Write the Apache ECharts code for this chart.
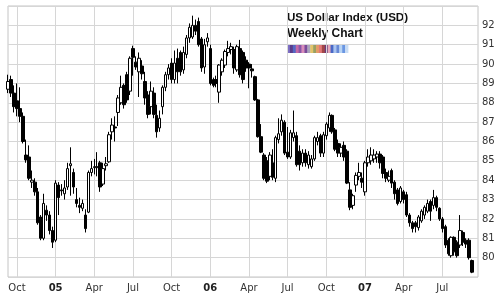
<!DOCTYPE html>
<html><head><meta charset="utf-8">
<script src="https://cdn.jsdelivr.net/npm/echarts@6/dist/echarts.min.js"></script>
<style>html,body{margin:0;padding:0;background:#fff}#c{width:499px;height:297px}</style>
</head><body><div id="c"></div>
<script>
// Weekly categories (Mondays)
const weeks = [
'2004-09-13','2004-09-20','2004-09-27','2004-10-04','2004-10-11','2004-10-18','2004-10-25','2004-11-01','2004-11-08','2004-11-15','2004-11-22','2004-11-29','2004-12-06','2004-12-13','2004-12-20','2004-12-27',
'2005-01-03','2005-01-10','2005-01-17','2005-01-24','2005-01-31','2005-02-07','2005-02-14','2005-02-21','2005-02-28','2005-03-07','2005-03-14','2005-03-21','2005-03-28','2005-04-04','2005-04-11','2005-04-18','2005-04-25','2005-05-02','2005-05-09','2005-05-16','2005-05-23','2005-05-30','2005-06-06','2005-06-13','2005-06-20','2005-06-27','2005-07-04','2005-07-11','2005-07-18','2005-07-25','2005-08-01','2005-08-08','2005-08-15','2005-08-22','2005-08-29','2005-09-05','2005-09-12','2005-09-19','2005-09-26','2005-10-03','2005-10-10','2005-10-17','2005-10-24','2005-10-31','2005-11-07','2005-11-14','2005-11-21','2005-11-28','2005-12-05','2005-12-12','2005-12-19','2005-12-26',
'2006-01-02','2006-01-09','2006-01-16','2006-01-23','2006-01-30','2006-02-06','2006-02-13','2006-02-20','2006-02-27','2006-03-06','2006-03-13','2006-03-20','2006-03-27','2006-04-03','2006-04-10','2006-04-17','2006-04-24','2006-05-01','2006-05-08','2006-05-15','2006-05-22','2006-05-29','2006-06-05','2006-06-12','2006-06-19','2006-06-26','2006-07-03','2006-07-10','2006-07-17','2006-07-24','2006-07-31','2006-08-07','2006-08-14','2006-08-21','2006-08-28','2006-09-04','2006-09-11','2006-09-18','2006-09-25','2006-10-02','2006-10-09','2006-10-16','2006-10-23','2006-10-30','2006-11-06','2006-11-13','2006-11-20','2006-11-27','2006-12-04','2006-12-11','2006-12-18','2006-12-25',
'2007-01-01','2007-01-08','2007-01-15','2007-01-22','2007-01-29','2007-02-05','2007-02-12','2007-02-19','2007-02-26','2007-03-05','2007-03-12','2007-03-19','2007-03-26','2007-04-02','2007-04-09','2007-04-16','2007-04-23','2007-04-30','2007-05-07','2007-05-14','2007-05-21','2007-05-28','2007-06-04','2007-06-11','2007-06-18','2007-06-25','2007-07-02','2007-07-09','2007-07-16','2007-07-23','2007-07-30','2007-08-06','2007-08-13','2007-08-20','2007-08-27','2007-09-03','2007-09-10','2007-09-17','2007-09-24'
];
const openV = [88.7,89.2,88.5,88.1,87.7,87.3,85.3,85.2,83.9,83.9,83.4,82.1,81.0,82.45,82.2,81.4,80.9,83.75,83.5,83.3,83.65,84.75,84.4,83.0,82.7,82.55,82.2,82.35,84.4,84.65,84.65,84.9,83.8,84.75,84.95,86.5,86.75,87.5,88.0,88.9,89.45,88.6,90.8,90.1,89.6,89.9,89.1,88.4,87.8,88.5,87.35,86.7,87.8,88.8,89.45,90.05,89.2,90.3,90.6,89.7,90.5,91.35,91.4,92.0,92.2,91.3,89.85,91.15,90.8,89.2,89.2,88.55,89.6,89.95,90.6,90.75,90.75,89.7,90.8,90.6,90.2,90.0,89.75,89.35,88.15,86.25,85.3,85.0,84.2,84.9,84.1,86.1,86.5,87.0,85.45,85.2,86.2,86.3,85.5,84.9,85.4,84.8,84.7,85.1,86.0,86.3,85.4,86.3,86.7,87.35,86.6,85.9,85.4,85.8,85.5,83.5,82.7,83.75,84.2,84.1,83.4,84.9,85.0,85.1,85.2,85.35,85.2,84.4,84.0,84.5,83.9,83.5,82.9,83.4,83.25,82.2,81.8,81.8,81.55,81.9,82.2,82.4,82.9,82.7,83.1,82.55,82.0,81.6,80.9,80.1,81.05,80.8,80.65,81.3,80.9,80.9,79.85];
const closeV = [89.1,88.5,87.8,87.7,87.3,86.0,85.05,84.1,84.0,83.4,81.8,81.0,82.8,82.2,81.4,80.8,83.85,83.1,83.45,83.6,84.6,84.85,83.65,82.8,82.6,82.8,81.5,84.4,84.6,84.7,84.7,83.65,84.6,84.85,86.35,86.85,86.7,88.25,88.8,87.9,88.15,90.3,90.35,89.85,90.3,89.5,88.25,87.4,88.6,87.4,86.5,87.2,88.8,89.45,89.8,89.2,90.05,89.6,89.6,90.6,91.35,91.9,92.0,91.7,91.0,89.8,91.0,91.35,89.0,88.9,89.0,89.95,90.2,90.65,90.8,90.9,89.8,90.9,89.45,89.2,89.8,89.8,89.65,88.15,86.25,85.45,84.1,83.95,85.3,84.15,86.2,86.4,87.1,85.4,85.2,86.45,86.45,84.8,84.8,85.4,84.9,85.3,85.1,86.2,86.2,85.4,86.35,86.9,87.35,86.5,85.6,85.4,85.7,85.2,83.85,82.6,83.2,84.25,84.4,83.9,84.9,85.2,85.3,85.3,85.35,84.9,84.35,84.1,84.2,83.85,83.3,82.8,83.6,83.0,82.2,81.8,81.5,81.6,82.1,82.4,82.6,82.8,82.4,83.1,82.6,82.0,81.5,80.65,80.2,81.05,80.3,80.1,81.4,80.8,80.7,80.0,79.25];
const lowV = [88.5,88.3,87.5,87.3,87.0,85.9,84.9,84.0,83.6,83.2,81.7,80.9,80.9,81.9,81.2,80.5,80.8,82.2,83.2,83.0,83.5,83.2,83.3,82.6,82.3,82.4,81.3,82.3,84.2,84.3,84.2,83.4,83.7,84.5,84.9,86.1,86.0,86.8,87.9,87.7,88.0,88.4,89.4,89.7,88.3,89.2,87.9,87.2,87.4,87.2,86.2,86.5,87.4,88.6,89.2,89.0,89.0,89.0,89.4,89.5,90.3,91.1,91.3,91.5,90.9,89.6,89.5,90.9,88.9,88.8,88.8,88.0,89.4,89.8,90.4,90.5,89.5,89.6,89.3,89.0,89.6,88.75,89.3,88.1,86.2,85.4,84.0,83.85,84.0,84.0,83.9,85.9,86.3,85.3,85.1,85.1,86.0,84.7,84.5,84.7,84.7,84.6,84.6,85.0,85.8,85.2,85.2,86.1,86.5,86.4,85.5,85.2,85.2,85.0,83.8,82.45,82.5,83.4,84.0,83.6,83.2,84.7,84.8,84.9,84.9,84.6,84.1,83.9,83.9,83.6,83.0,82.7,82.8,82.8,82.1,81.6,81.3,81.3,81.4,81.8,82.0,82.3,81.9,82.5,82.4,81.9,81.3,80.5,80.1,80.0,80.1,80.0,80.5,80.6,80.5,79.9,79.2];
const highV = [89.45,89.4,88.9,89.0,88.8,87.5,86.1,85.8,84.5,84.1,83.6,82.2,83.3,82.7,82.4,81.6,84.0,83.9,83.8,84.0,84.9,85.7,84.6,83.6,83.1,83.0,82.5,84.5,85.0,85.1,85.45,85.0,84.9,85.2,86.5,87.2,87.3,88.4,89.4,89.0,89.6,90.4,90.95,90.4,90.6,90.2,89.6,88.6,89.1,88.8,87.9,87.6,88.9,89.6,90.0,90.3,90.7,90.8,90.7,90.9,91.5,92.1,92.5,92.3,92.4,91.4,91.3,91.6,91.0,89.3,89.4,90.0,90.3,90.75,91.2,91.1,90.9,91.0,91.25,90.7,90.4,90.1,90.0,89.4,88.2,86.9,85.4,85.2,85.45,85.6,86.3,87.2,87.4,87.1,86.75,86.6,87.6,86.5,85.8,85.6,85.6,85.5,85.3,86.3,86.5,86.4,86.5,87.0,87.5,87.4,86.7,86.1,85.9,86.0,85.6,83.9,83.3,84.4,84.9,84.4,85.0,85.6,85.7,85.6,85.5,85.5,85.3,84.6,84.5,84.6,84.0,83.6,83.7,83.5,83.4,82.3,81.9,81.9,82.2,82.5,82.7,83.0,83.0,83.5,83.2,82.6,82.1,81.7,81.0,81.1,81.1,80.9,82.2,81.4,81.0,81.0,79.9];
const yTicks = [80,81,82,83,84,85,86,87,88,89,90,91,92];
const monthNames = {'01':'', '04':'Apr', '07':'Jul', '10':'Oct'};
const stripeColors = ['#7d6fc4','#5a3d8c','#5468c4','#c46aa6','#8a55a8','#d88cba','#7a4b9a','#a9a5bb','#e2c46a','#9aa060','#e49a66','#e27878','#a24848','#6a3a7a','#e6a8b8','#4868c6','#a8c4f0','#6688d6','#b8d4f4','#6a96e2','#c8dcf4'];

const data = openV.map((o, i) => [o, closeV[i], lowV[i], highV[i]]);
function isQuarter(i) {
  const d = weeks[i]; const m = d.slice(5,7); const day = +d.slice(8,10);
  return (m in monthNames) && day <= 7;
}
const stripeW = 61 / stripeColors.length;
const stripes = stripeColors.map((c, k) => ({type:'rect', shape:{x:287 + k*stripeW, y:44, width:stripeW + 0.4, height:9}, style:{fill:c}}));

const chart = echarts.init(document.getElementById('c'), null, {renderer:'canvas'});
chart.setOption({
  animation: false,
  backgroundColor: '#fff',
  grid: {left: 8, right: 21, top: 6, bottom: 20, show: true, borderColor: '#c4c4c4', borderWidth: 1},
  xAxis: {
    type: 'category', data: weeks, boundaryGap: false,
    axisLine: {show: false}, axisTick: {show: false},
    splitLine: {show: true, interval: (i) => isQuarter(i), lineStyle: {color: '#d6d6d6', width: 1}},
    axisLabel: {
      interval: (i) => isQuarter(i), margin: 6, color: '#333', fontFamily: 'DejaVu Sans', fontSize: 10,
      formatter: (v) => { const m = v.slice(5,7); return m === '01' ? '{b|' + v.slice(2,4) + '}' : monthNames[m]; },
      rich: {b: {fontWeight: 'bold', fontFamily: 'DejaVu Sans', fontSize: 10, color: '#222'}}
    }
  },
  yAxis: {
    type: 'value', position: 'right', min: 79, max: 93, interval: 1, scale: true,
    axisLine: {show: false}, axisTick: {show: false},
    splitLine: {show: true, lineStyle: {color: '#d6d6d6', width: 1}},
    axisLabel: {margin: 4, color: '#333', fontFamily: 'DejaVu Sans', fontSize: 10,
      formatter: (v) => yTicks.indexOf(v) >= 0 ? String(v) : ''}
  },
  graphic: [
    {type:'text', left: 287, top: 12, style:{text:'US Dollar Index (USD)', font:'bold 11.6px "Liberation Sans", Arial, sans-serif', fill:'#111'}},
    {type:'text', left: 287, top: 28, style:{text:'Weekly Chart', font:'bold 12px "Liberation Sans", Arial, sans-serif', fill:'#111'}},
    {type:'group', children: stripes}
  ],
  series: [{
    type: 'candlestick', data: data, barWidth: 3, clip: false,
    itemStyle: {color: '#ffffff', color0: '#000000', borderColor: '#000000', borderColor0: '#000000', borderWidth: 1}
  }]
});
</script></body></html>
